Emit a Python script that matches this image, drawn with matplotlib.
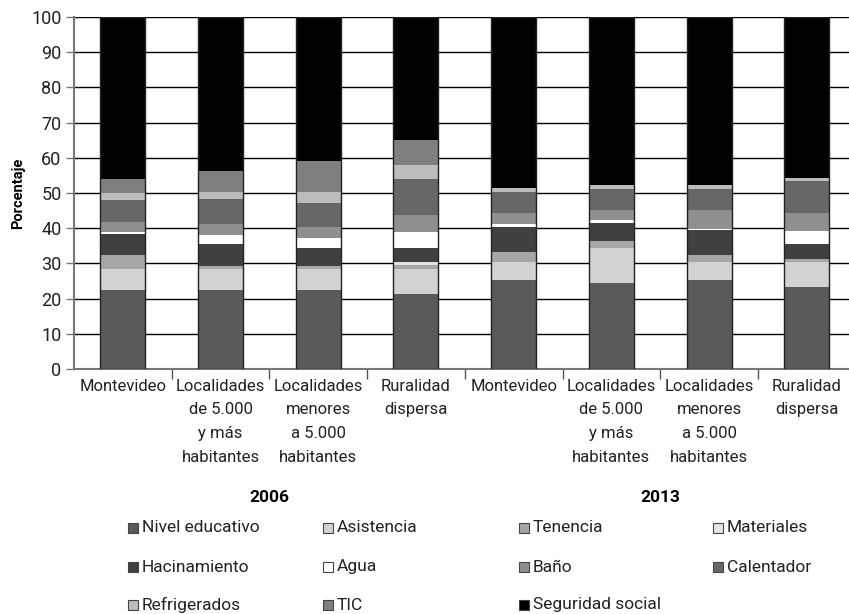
import matplotlib
matplotlib.use("Agg")
import matplotlib.pyplot as plt
from matplotlib.patches import Rectangle
import numpy as np

plt.rcParams['font.family'] = ['Roboto', 'DejaVu Sans']

categories = ["Montevideo", "Localidades\nde 5.000\ny más\nhabitantes",
              "Localidades\nmenores\na 5.000\nhabitantes", "Ruralidad\ndispersa"] * 2
years = ["2006", "2013"]

series_names = ["Nivel educativo", "Asistencia", "Tenencia", "Materiales",
                "Hacinamiento", "Agua", "Baño", "Calentador",
                "Refrigerados", "TIC", "Seguridad social"]

nivel_educativo = [22.4, 22.4, 22.4, 21.3, 25.3, 24.4, 25.3, 23.3]
asistencia      = [6.0, 6.0, 6.0, 7.1, 5.1, 10.0, 5.1, 7.1]
tenencia        = [4.0, 0.9, 0.9, 1.1, 2.8, 2.0, 2.0, 0.9]
materiales      = [0.0, 0.0, 0.0, 0.9, 0.0, 0.0, 0.0, 0.0]
hacinamiento    = [6.0, 6.2, 5.1, 4.0, 7.1, 5.1, 7.1, 4.2]
agua            = [0.5, 2.6, 2.8, 4.5, 0.9, 0.8, 0.3, 3.7]
bano            = [2.9, 3.1, 3.1, 4.9, 3.1, 2.9, 5.4, 5.1]
calentador      = [6.2, 7.1, 6.9, 10.2, 6.0, 5.9, 5.9, 9.1]
refrigerados    = [2.1, 2.1, 3.1, 4.0, 1.1, 1.2, 1.2, 0.9]
tic             = [3.9, 5.8, 8.9, 7.0, 0.0, 0.0, 0.0, 0.0]
seguridad_social = [46.0, 43.8, 40.8, 35.0, 48.6, 47.7, 47.7, 45.7]

y_ticks = list(range(0, 101, 10))

series = [nivel_educativo, asistencia, tenencia, materiales, hacinamiento, agua,
          bano, calentador, refrigerados, tic, seguridad_social]
colors = ["#5a5a5a", "#d2d2d2", "#a6a6a6", "#e4e4e4", "#404040", "#ffffff",
          "#8f8f8f", "#676767", "#bcbcbc", "#7f7f7f", "#000000"]

fig = plt.figure(figsize=(8.49, 6.14), dpi=100)
ax = fig.add_axes([74/849, 1-369/614, 781.6/849, 352/614])

x = np.arange(len(categories))
width = 0.46
bottom = np.zeros(len(categories))
for vals, c, name in zip(series, colors, series_names):
    vals = np.array(vals)
    ax.bar(x, vals, width, bottom=bottom, color=c, edgecolor='none', zorder=3, label=name)
    bottom += vals
ax.bar(x, bottom, width, fill=False, edgecolor='#222222', linewidth=1.0, zorder=4)

ax.set_xlim(-0.5, len(categories) - 0.5)
ax.set_ylim(0, 100)
ax.set_yticks(y_ticks)
ax.yaxis.grid(True, color='black', linewidth=1.0, zorder=1)
ax.set_axisbelow(True)

ax.set_xticks(x)
ax.set_xticklabels(categories, fontsize=12, linespacing=1.72, va='top', color='#222222')
ax.tick_params(axis='x', which='major', length=0, pad=7)
ax.set_xticks(np.arange(0.5, len(categories) - 0.5, 1), minor=True)
ax.tick_params(axis='x', which='minor', length=7, width=1, color='#555555')
ax.tick_params(axis='y', length=6, width=1, color='#777777', labelsize=13, pad=3, labelcolor='#222222')

for s in ['top', 'right']:
    ax.spines[s].set_visible(False)
ax.spines['left'].set_color('#777777')
ax.spines['left'].set_linewidth(1.5)
ax.spines['bottom'].set_color('#777777')
ax.spines['bottom'].set_linewidth(1.5)

ax.set_ylabel("Porcentaje", fontsize=10.5, fontweight='bold', labelpad=4)

# year labels
for i, yr in enumerate(years):
    xc = 1.5 + 4 * i
    ax.text(xc, 1 - (498 - 17) / 352, yr, transform=ax.get_xaxis_transform(),
            ha='center', va='center', fontsize=12.5, fontweight='bold')

# legend (manual, row-wise)
col_x = [128, 323, 519, 713]
row_y = [528, 567, 605]
for k, (name, c) in enumerate(zip(series_names, colors)):
    r, cidx = divmod(k, 4)
    px, py = col_x[cidx], row_y[r]
    sq = 10
    fig.patches.append(Rectangle((px / 849, 1 - (py + sq / 2) / 614), sq / 849, sq / 614,
                                 transform=fig.transFigure, facecolor=c,
                                 edgecolor='#444444', linewidth=0.8))
    fig.text((px + sq + 4) / 849, 1 - py / 614, name, ha='left', va='center',
             fontsize=12.5, color='#222222')

fig.savefig("out.png", dpi=100)
